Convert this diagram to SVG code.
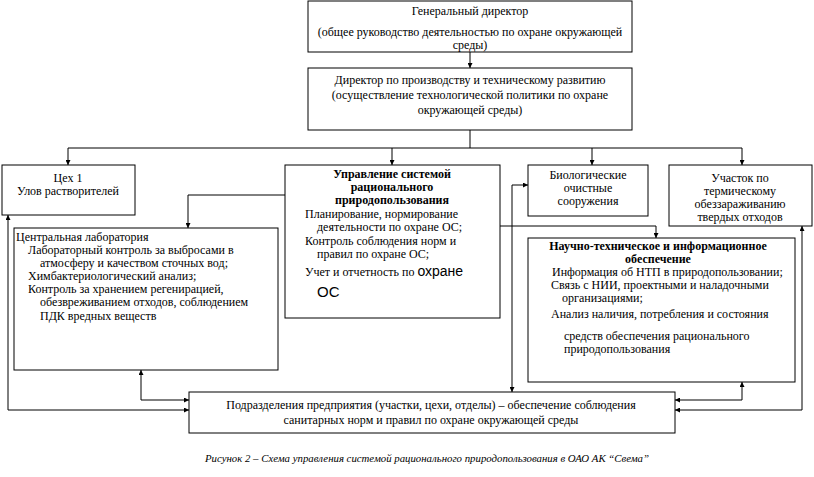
<svg xmlns="http://www.w3.org/2000/svg" width="814" height="477" viewBox="0 0 814 477">
<defs>
<marker id="ah" viewBox="0 0 10 10" refX="10" refY="5" markerWidth="5" markerHeight="5" orient="auto-start-reverse" markerUnits="userSpaceOnUse">
<path d="M0,0 L10,5 L0,10 z" fill="#000"/>
</marker>
<style>
.box{fill:#fff;stroke:#000;stroke-width:1}
.t{font-family:"Liberation Serif","Times New Roman",serif;font-size:12px;fill:#000}
.c{text-anchor:middle}
.b{font-weight:bold}
.ln{fill:none;stroke:#000;stroke-width:1}
.cap{font-family:"Liberation Serif","Times New Roman",serif;font-size:10px;font-style:italic;fill:#000}
</style>
</defs>
<rect width="814" height="477" fill="#fff"/>
<g id="connectors">
<path class="ln" d="M470,52 V68" marker-end="url(#ah)"/>
<path class="ln" d="M470,130 V148 M68,148 H742"/>
<path class="ln" d="M68,148 V165" marker-end="url(#ah)"/>
<path class="ln" d="M392,148 V165" marker-end="url(#ah)"/>
<path class="ln" d="M592,148 V165" marker-end="url(#ah)"/>
<path class="ln" d="M742,148 V165" marker-end="url(#ah)"/>
<path class="ln" d="M285,195 H188 V228" marker-end="url(#ah)"/>
<path class="ln" d="M500,226 H656 V238" marker-end="url(#ah)"/>
<path class="ln" d="M528,185 H512 V392" marker-start="url(#ah)" marker-end="url(#ah)"/>
<path class="ln" d="M8,215 V410 H189" marker-start="url(#ah)" marker-end="url(#ah)"/>
<path class="ln" d="M141,370 V400 H189" marker-start="url(#ah)" marker-end="url(#ah)"/>
<path class="ln" d="M742,382 V400 H675" marker-start="url(#ah)" marker-end="url(#ah)"/>
<path class="ln" d="M802,226 V410 H675" marker-start="url(#ah)" marker-end="url(#ah)"/>
</g>
<g id="gen-director">
<rect class="box" x="308" y="1" width="324" height="51"/>
<text class="t c" x="470" y="15">Генеральный директор</text>
<text class="t c" x="470" y="36">(общее руководство деятельностью по охране окружающей</text>
<text class="t c" x="470" y="49">среды)</text>
</g>
<g id="prod-director">
<rect class="box" x="308" y="68" width="324" height="62"/>
<text class="t c" x="470" y="84">Директор по производству и техническому развитию</text>
<text class="t c" x="470" y="99">(осуществление технологической политики по охране</text>
<text class="t c" x="470" y="114">окружающей среды)</text>
</g>
<g id="shop1">
<rect class="box" x="2" y="165" width="133" height="50"/>
<text class="t c" x="68" y="182">Цех 1</text>
<text class="t c" x="68" y="195">Улов растворителей</text>
</g>
<g id="central-lab">
<rect class="box" x="14" y="228" width="264" height="142"/>
<text class="t" x="16" y="241">Центральная лаборатория</text>
<text class="t" x="28" y="254">Лабораторный контроль за выбросами в</text>
<text class="t" x="40" y="267">атмосферу и качеством сточных вод;</text>
<text class="t" x="28" y="280">Химбактериологический анализ;</text>
<text class="t" x="28" y="293">Контроль за хранением регенирацией,</text>
<text class="t" x="40" y="306">обезвреживанием отходов, соблюдением</text>
<text class="t" x="40" y="320">ПДК вредных веществ</text>
</g>
<g id="management">
<rect class="box" x="285" y="165" width="215" height="153"/>
<text class="t c b" x="392" y="178">Управление системой</text>
<text class="t c b" x="392" y="191">рационального</text>
<text class="t c b" x="392" y="204">природопользования</text>
<text class="t" x="305" y="218">Планирование, нормирование</text>
<text class="t" x="317" y="231">деятельности по охране ОС;</text>
<text class="t" x="305" y="245">Контроль соблюдения норм и</text>
<text class="t" x="317" y="258">правил по охране ОС;</text>
<text class="t" x="305" y="276">Учет и отчетность по <tspan style="font-family:'Liberation Sans',Arial,sans-serif;font-size:14px">охране</tspan></text>
<text class="t" x="317" y="297" style="font-family:'Liberation Sans',Arial,sans-serif;font-size:15px">ОС</text>
</g>
<g id="bio">
<rect class="box" x="528" y="165" width="120" height="51"/>
<text class="t c" x="588" y="179">Биологические</text>
<text class="t c" x="588" y="192">очистные</text>
<text class="t c" x="588" y="205">сооружения</text>
</g>
<g id="thermal">
<rect class="box" x="669" y="165" width="143" height="61"/>
<text class="t c" x="740" y="182">Участок по</text>
<text class="t c" x="740" y="195">термическому</text>
<text class="t c" x="740" y="208">обеззараживанию</text>
<text class="t c" x="740" y="221">твердых отходов</text>
</g>
<g id="science">
<rect class="box" x="528" y="238" width="267" height="144"/>
<text class="t c b" x="658" y="250">Научно-техническое и информационное</text>
<text class="t c b" x="658" y="263">обеспечение</text>
<text class="t" x="552" y="276">Информация об НТП в природопользовании;</text>
<text class="t" x="551" y="289">Связь с НИИ, проектными и наладочными</text>
<text class="t" x="562" y="302">организациями;</text>
<text class="t" x="551" y="318">Анализ наличия, потребления и состояния</text>
<text class="t" x="564" y="340">средств обеспечения рационального</text>
<text class="t" x="564" y="353">природопользования</text>
</g>
<g id="divisions">
<rect class="box" x="189" y="392" width="486" height="41"/>
<text class="t c" x="431" y="409">Подразделения предприятия (участки, цехи, отделы) – обеспечение соблюдения</text>
<text class="t c" x="431" y="424">санитарных норм и правил по охране окружающей среды</text>
</g>
<text class="cap" x="205" y="462" textLength="444" lengthAdjust="spacingAndGlyphs">Рисунок 2 – Схема управления системой рационального природопользования в ОАО АК “Свема”</text>
</svg>
